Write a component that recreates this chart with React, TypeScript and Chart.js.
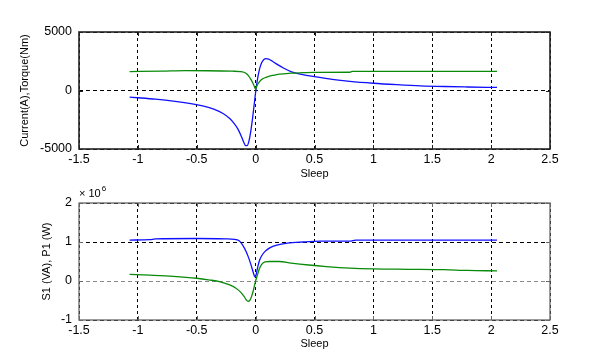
import React, { useEffect, useRef } from 'react';
import { Chart, registerables } from 'chart.js';
Chart.register(...registerables);

// ---- data (top plot) ----
const curX = [-1.07, -1.0, -0.85, -0.7, -0.55, -0.45, -0.35, -0.28, -0.22, -0.18, -0.15, -0.12, -0.1, -0.085, -0.07, -0.055, -0.04, -0.025, -0.01, 0, 0.015, 0.03, 0.05, 0.07, 0.09, 0.11, 0.14, 0.18, 0.24, 0.3, 0.4, 0.5, 0.65, 0.8, 1.0, 1.2, 1.4, 1.6, 1.8, 2.05];
const curY = [-570, -620, -740, -900, -1120, -1320, -1620, -1950, -2400, -2850, -3300, -3950, -4450, -4720, -4700, -4250, -3400, -2300, -1000, -150, 900, 1700, 2350, 2650, 2720, 2680, 2520, 2250, 1900, 1620, 1350, 1180, 950, 780, 620, 500, 400, 340, 300, 260];
const torX = [-1.07, -0.8, -0.6, -0.4, -0.2, -0.13, -0.1, -0.08, -0.06, -0.04, -0.02, -0.005, 0, 0.01, 0.03, 0.06, 0.1, 0.15, 0.2, 0.3, 0.4, 0.5, 0.8, 0.82, 1.2, 1.6, 2.05];
const torY = [1620, 1650, 1700, 1690, 1650, 1620, 1560, 1450, 1250, 950, 550, 200, 100, 380, 720, 1000, 1170, 1300, 1400, 1480, 1520, 1550, 1560, 1630, 1630, 1630, 1630];

// ---- data (bottom plot, in units of 10^6) ----
const sX = [-1.07, -0.9, -0.85, -0.5, -0.25, -0.18, -0.14, -0.11, -0.08, -0.06, -0.04, -0.025, -0.012, -0.003, 0.005, 0.015, 0.03, 0.05, 0.08, 0.12, 0.18, 0.27, 0.4, 0.55, 0.8, 0.85, 1.2, 1.6, 2.05];
const sY = [1.05, 1.06, 1.08, 1.09, 1.08, 1.07, 1.03, 0.92, 0.75, 0.6, 0.42, 0.27, 0.14, 0.1, 0.17, 0.32, 0.5, 0.64, 0.76, 0.85, 0.92, 0.97, 1.0, 1.02, 1.02, 1.05, 1.05, 1.05, 1.05];
const pX = [-1.07, -0.9, -0.7, -0.5, -0.4, -0.3, -0.22, -0.17, -0.13, -0.1, -0.08, -0.065, -0.05, -0.035, -0.02, -0.01, 0, 0.015, 0.03, 0.05, 0.08, 0.12, 0.2, 0.3, 0.45, 0.6, 0.8, 1.0, 1.3, 1.6, 1.8, 2.05];
const pY = [0.17, 0.15, 0.12, 0.07, 0.03, -0.02, -0.1, -0.18, -0.28, -0.39, -0.48, -0.52, -0.5, -0.4, -0.25, -0.12, 0.0, 0.15, 0.3, 0.42, 0.49, 0.5, 0.5, 0.46, 0.41, 0.37, 0.33, 0.31, 0.3, 0.29, 0.27, 0.26];

// ---- axes ----
const xMin = -1.5, xMax = 2.5, xStep = 0.5;
const topYMin = -5000, topYMax = 5000, topYStep = 5000;
const botYMin = -1, botYMax = 2, botYStep = 1;
const xTitle = 'Sleep';
const topYTitle = 'Current(A),Torque(Nm)';
const botYTitle = 'S1 (VA), P1 (W)';
const botExponent = '6';

const FONT = '"Liberation Sans", Arial, sans-serif';
const BLUE = '#1010ff';
const GREEN = '#0a8a0a';

const zip = (xs: number[], ys: number[]) => xs.map((x, i) => ({ x, y: ys[i] }));

function framePlugin(color: string, width: number, exponent?: string) {
  return {
    id: 'frame',
    afterDraw(chart: any) {
      const { ctx, chartArea } = chart;
      const { left, top, right, bottom } = chartArea;
      ctx.save();
      ctx.strokeStyle = color;
      ctx.lineWidth = width;
      ctx.strokeRect(left, top, right - left, bottom - top);
      const xs = chart.scales.x, ys = chart.scales.y;
      ctx.lineWidth = 1;
      ctx.beginPath();
      xs.ticks.forEach((t: any) => {
        const px = Math.round(xs.getPixelForValue(t.value)) + 0.5;
        ctx.moveTo(px, bottom); ctx.lineTo(px, bottom - 4);
        ctx.moveTo(px, top); ctx.lineTo(px, top + 4);
      });
      ys.ticks.forEach((t: any) => {
        const py = Math.round(ys.getPixelForValue(t.value)) + 0.5;
        ctx.moveTo(left, py); ctx.lineTo(left + 4, py);
        ctx.moveTo(right, py); ctx.lineTo(right - 4, py);
      });
      ctx.stroke();
      if (exponent) {
        ctx.fillStyle = '#000';
        ctx.textBaseline = 'alphabetic';
        ctx.textAlign = 'left';
        ctx.font = `11px ${FONT}`;
        const base = '\u00d7 10';
        ctx.fillText(base, left, top - 6);
        const w = ctx.measureText(base).width;
        ctx.font = `8px ${FONT}`;
        ctx.fillText(exponent, left + w + 1, top - 12);
      }
      ctx.restore();
    },
  };
}

function buildConfig(opts: {
  datasets: any[]; yMin: number; yMax: number; yStep: number; yTitle: string;
  yTitleOffset: number; padTop: number; padBottom: number; xHeight: number;
  zeroGray: boolean; frameColor: string; frameWidth: number; exponent?: string;
}): any {
  return {
    type: 'line',
    data: { datasets: opts.datasets },
    options: {
      animation: false,
      responsive: false,
      devicePixelRatio: 1,
      layout: { padding: { left: 0, right: 57, top: opts.padTop, bottom: opts.padBottom } },
      plugins: { legend: { display: false }, tooltip: { enabled: false } },
      elements: { point: { radius: 0 }, line: { borderWidth: 1.3, cubicInterpolationMode: 'monotone' } },
      scales: {
        x: {
          type: 'linear', min: xMin, max: xMax,
          afterFit: (s: any) => { s.height = opts.xHeight; },
          ticks: { stepSize: xStep, color: '#000', padding: 3, font: { family: FONT, size: 12.5 }, callback: (v: any) => String(v) },
          grid: { color: '#000', borderDash: [3, 3], drawTicks: false, lineWidth: 1 },
          border: { display: false, dash: [3, 3] },
          title: { display: true, text: xTitle, color: '#000', font: { family: FONT, size: 11 }, padding: { top: 0, bottom: 0 } },
        },
        y: {
          type: 'linear', min: opts.yMin, max: opts.yMax,
          afterFit: (s: any) => { s.width = 79; },
          ticks: { stepSize: opts.yStep, color: '#000', padding: 7, font: { family: FONT, size: 12.5 }, callback: (v: any) => String(v) },
          grid: {
            color: (c: any) => (opts.zeroGray && c.tick && c.tick.value === 0 ? '#8a8a8a' : '#000'),
            drawTicks: false, lineWidth: 1,
          },
          border: { display: false, dash: [4, 3] },
          title: { display: true, text: opts.yTitle, color: '#000', font: { family: FONT, size: 11 }, padding: { top: opts.yTitleOffset, bottom: 0 } },
        },
      },
    },
    plugins: [framePlugin(opts.frameColor, opts.frameWidth, opts.exponent)],
  };
}

export default function App() {
  const topRef = useRef<HTMLCanvasElement>(null);
  const botRef = useRef<HTMLCanvasElement>(null);

  useEffect(() => {
    const top = new Chart(topRef.current as HTMLCanvasElement, buildConfig({
      datasets: [
        { data: zip(torX, torY), borderColor: GREEN, fill: false },
        { data: zip(curX, curY), borderColor: BLUE, fill: false },
      ],
      yMin: topYMin, yMax: topYMax, yStep: topYStep, yTitle: topYTitle, yTitleOffset: 18,
      padTop: 32, padBottom: 0, xHeight: 32, zeroGray: false, frameColor: '#222', frameWidth: 1.6,
    }));
    const bot = new Chart(botRef.current as HTMLCanvasElement, buildConfig({
      datasets: [
        { data: zip(pX, pY), borderColor: GREEN, fill: false },
        { data: zip(sX, sY), borderColor: BLUE, fill: false },
      ],
      yMin: botYMin, yMax: botYMax, yStep: botYStep, yTitle: botYTitle, yTitleOffset: 40,
      padTop: 22, padBottom: 11, xHeight: 31, zeroGray: true, frameColor: '#666', frameWidth: 1.3,
      exponent: botExponent,
    }));
    return () => { top.destroy(); bot.destroy(); };
  }, []);

  return (
    <div style={{ position: 'fixed', left: 0, top: 0, width: 607, height: 362, background: '#fff' }}>
      <canvas ref={topRef} width={607} height={181} style={{ position: 'absolute', left: 0, top: 0, width: 607, height: 181 }} />
      <canvas ref={botRef} width={607} height={181} style={{ position: 'absolute', left: 0, top: 181, width: 607, height: 181 }} />
    </div>
  );
}
